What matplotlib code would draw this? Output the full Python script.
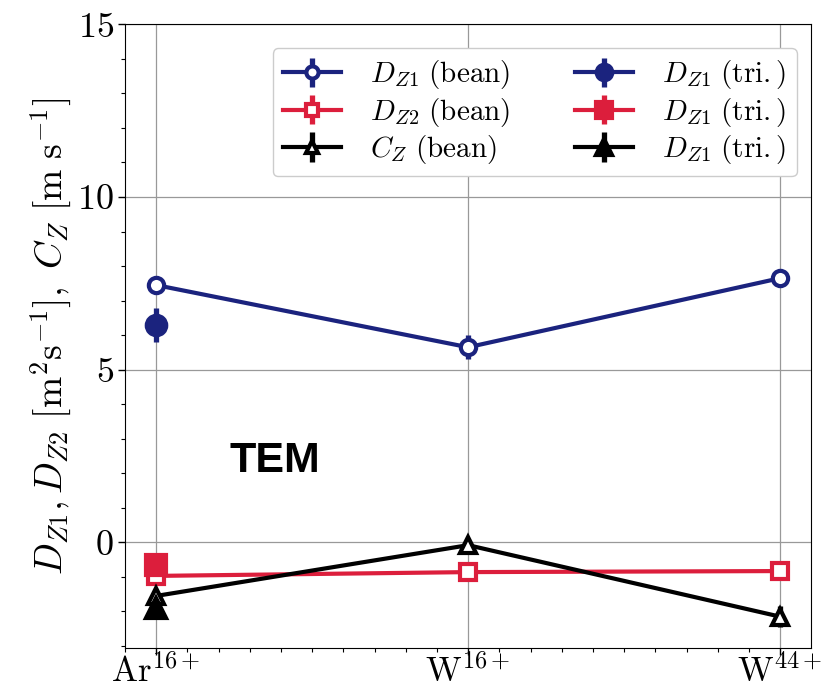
import matplotlib
matplotlib.use("Agg")
import matplotlib.pyplot as plt
import numpy as np

plt.rcParams["mathtext.fontset"] = "cm"
plt.rcParams["font.family"] = "serif"
plt.rcParams["font.serif"] = ["cmr10", "DejaVu Serif"]
plt.rcParams["axes.formatter.use_mathtext"] = True
plt.rcParams["axes.unicode_minus"] = False

NAVY = "#1b237e"
RED = "#dc1e3c"

# --- data ---
species = [r"$\mathrm{Ar}^{16+}$", r"$\mathrm{W}^{16+}$", r"$\mathrm{W}^{44+}$"]
dz1_bean = [7.45, 5.65, 7.65]
dz1_bean_err = [0.15, 0.35, 0.1]
dz2_bean = [-0.97, -0.86, -0.83]
dz2_bean_err = [0.1, 0.1, 0.1]
cz_bean = [-1.55, -0.08, -2.15]
cz_bean_err = [0.15, 0.15, 0.3]

dz1_tri = [6.3]
dz1_tri_err = [0.5]
dz2_tri = [-0.66]
dz2_tri_err = [0.2]
cz_tri = [-1.9]
cz_tri_err = [0.2]

x = np.arange(len(species))

fig = plt.figure(figsize=(8.22, 6.95), dpi=100)
ax = fig.add_axes([0.152, 0.068, 0.835, 0.897])

kw = dict(lw=3.0, elinewidth=3.8, capsize=0, markersize=11, mew=3.0)
ax.errorbar(x, dz1_bean, yerr=dz1_bean_err, color=NAVY, marker="o", mfc="white",
            label=r"$D_{Z1}\ \mathrm{(bean)}$", **kw)
ax.errorbar(x, dz2_bean, yerr=dz2_bean_err, color=RED, marker="s", mfc="white",
            label=r"$D_{Z2}\ \mathrm{(bean)}$", **kw)
ax.errorbar(x, cz_bean, yerr=cz_bean_err, color="black", marker="^", mfc="white",
            label=r"$C_{Z}\ \mathrm{(bean)}$", **kw)
kw2 = dict(lw=3.0, elinewidth=3.8, capsize=0, markersize=14, mew=3.0)
ax.errorbar(x[:1], dz1_tri, yerr=dz1_tri_err, color=NAVY, marker="o",
            label=r"$D_{Z1}\ \mathrm{(tri.)}$", **kw2)
ax.errorbar(x[:1], dz2_tri, yerr=dz2_tri_err, color=RED, marker="s",
            label=r"$D_{Z1}\ \mathrm{(tri.)}$", **kw2)
ax.errorbar(x[:1], cz_tri, yerr=cz_tri_err, color="black", marker="^",
            label=r"$D_{Z1}\ \mathrm{(tri.)}$", **kw2)

ax.set_xlim(-0.1, 2.1)
ax.set_ylim(-3.05, 15)
ax.set_xticks(x)
ax.set_xticklabels(species, fontsize=25)
ax.set_xticks(np.arange(-0.1, 2.1, 0.1), minor=True)
ax.set_yticks([0, 5, 10, 15])
ax.set_yticks(np.arange(-3, 15, 1), minor=True)
ax.tick_params(axis="y", labelsize=26, pad=3)
ax.tick_params(axis="x", pad=0)
ax.tick_params(which="major", length=5, width=1)
ax.tick_params(which="minor", length=3, width=0.8)
ax.grid(True, which="major", color="#999999", lw=0.9)
ax.set_axisbelow(True)
ax.set_ylabel(r"$D_{Z1}, D_{Z2}\ [\mathrm{m}^2\mathrm{s}^{-1}],\ C_Z\ [\mathrm{m\ s}^{-1}]$",
              fontsize=27, labelpad=3)

ax.text(0.235, 2.35, "TEM", fontsize=31, fontweight="bold", family="Liberation Sans",
        ha="left", va="center")

ax.legend(loc="upper right", ncol=2, fontsize=21, frameon=True, fancybox=True,
          handlelength=2.0, columnspacing=2.2, labelspacing=0.15, borderpad=0.35,
          handletextpad=1.0, framealpha=1, edgecolor="#cccccc",
          bbox_to_anchor=(1.0, 0.985), markerscale=0.8)

fig.savefig("out.png", dpi=100)
